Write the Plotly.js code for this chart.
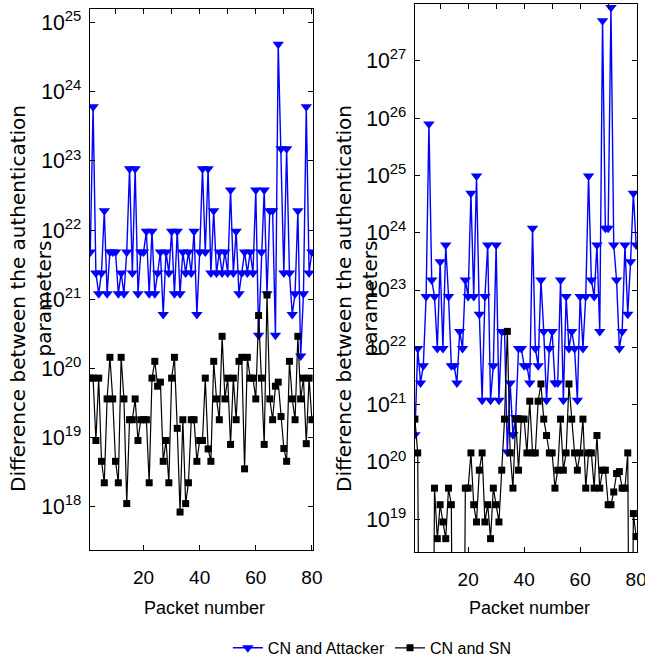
<!DOCTYPE html>
<html>
<head>
<meta charset="utf-8">
<script src="https://cdn.plot.ly/plotly-3.0.1.min.js"></script>
<style>html,body{margin:0;padding:0;background:#fff;}#chart{width:645px;height:666px;}</style>
</head>
<body>
<div id="chart"></div>
<script>
// Packet numbers (x categories)
const packets = [1,2,3,4,5,6,7,8,9,10,11,12,13,14,15,16,17,18,19,20,21,22,23,24,25,26,27,28,29,30,31,32,33,34,35,36,37,38,39,40,41,42,43,44,45,46,47,48,49,50,51,52,53,54,55,56,57,58,59,60,61,62,63,64,65,66,67,68,69,70,71,72,73,74,75,76,77,78,79,80];

// Left panel
const leftAttacker = [4.8e21,6.1e23,2.4e21,1.2e21,2.4e21,1.9e22,1.2e21,4.8e21,4.8e21,4.8e21,
  1.2e21,2.4e21,1.2e21,4.8e21,7.7e22,2.4e21,7.7e22,1.2e21,4.8e21,4.8e21,
  9.6e21,1.2e21,9.6e21,1.2e21,2.4e21,4.8e21,6e20,4.8e21,2.4e21,9.6e21,
  1.2e21,9.6e21,1.2e21,4.8e21,2.4e21,4.8e21,2.4e21,9.6e21,6e20,4.8e21,
  7.7e22,4.8e21,7.7e22,2.4e21,1.9e22,2.4e21,4.8e21,2.4e21,4.8e21,2.4e21,
  3.8e22,2.4e21,9.6e21,1.2e21,2.4e21,4.8e21,2.4e21,4.8e21,2.4e21,3.8e22,
  3e20,4.8e21,3.8e22,1.2e21,1.9e22,1.9e22,3e20,4.9e24,1.5e23,2.4e21,
  1.5e23,2.4e21,6e20,1.2e21,1.9e22,1.5e20,1.2e21,6.1e23,2.4e21,4.8e21];
const leftSN = [7.2e19,7.2e19,9e18,7.2e19,4.5e18,2.2e18,3.6e19,1.44e20,3.6e19,4.5e18,
  2.2e18,1.44e20,3.6e19,1.1e18,1.8e19,1.8e19,3.6e19,9e18,1.8e19,1.8e19,
  1.8e19,2.2e18,7.2e19,1.26e20,5.5e19,6.3e19,4.5e18,9e18,2.2e18,7.2e19,
  1.44e20,1.35e19,8.3e17,1.8e19,1.1e18,2.2e18,1.8e19,1.8e19,4.5e18,9e18,
  9e18,7.2e19,6.8e18,4.5e18,1.26e20,3.6e19,1.8e19,2.9e20,3.6e19,7.2e19,
  7.9e18,7.2e19,1.8e19,1.26e20,1.44e20,3.5e18,1.44e20,7.2e19,7.2e19,3.6e19,
  5.8e20,7.2e19,7.9e18,1.15e21,3.6e19,1.8e19,5.5e19,6.3e19,2e19,6.9e18,
  4.5e18,1.26e20,3.6e19,1.8e19,2.9e20,3.6e19,7.2e19,8.1e18,7.2e19,1.8e19];

// Right panel
const rightAttacker = [3e20,9.6e21,2.4e21,4.8e21,7.7e22,7.9e25,1.5e23,7.7e22,9.6e21,3.1e23,
  9.6e21,6.1e23,7.7e22,4.8e21,4.8e21,2.4e21,1.9e22,9.6e21,1.5e23,7.7e22,
  4.9e24,7.7e22,9.8e24,3.8e22,1.2e21,7.7e22,6.1e23,1.2e21,4.8e21,6.1e23,
  1.2e21,1.9e22,1.9e22,1.5e20,2.4e21,3e20,6e20,9.6e21,9.6e21,4.8e21,
  4.8e21,2.4e21,1.2e24,9.6e21,4.8e21,1.5e23,1.9e22,1.2e21,9.6e21,1.9e22,
  2.4e21,2.4e21,1.5e23,1.2e21,7.7e22,9.6e21,1.9e22,9.6e21,1.2e21,7.7e22,
  9.6e21,7.7e22,9.8e24,1.5e23,7.7e22,6.1e23,1.9e22,5e27,1.2e24,1.2e24,
  8.5e27,6.1e23,1.5e23,9.6e21,1.9e22,6.1e23,3.8e22,3.1e23,4.9e24,6.1e23];
const rightSN = [5.6e20,1.44e20,1e12,1e12,1e12,1e12,1e12,3.5e19,4.6e18,1.8e19,
  9e18,4.6e18,3.5e19,1.8e19,1e12,1e12,1e12,1e12,3.5e19,3.5e19,
  1.44e20,1.8e19,9e18,7.2e19,1.44e20,9e18,1.8e19,4.6e18,3.5e19,1.8e19,
  9e18,7.2e19,5.6e20,1.9e22,1.44e20,3.5e19,5.6e20,7.2e19,5.6e20,5.6e20,
  1.44e20,1.15e21,1.44e20,1.44e20,1.15e21,2.3e21,5.6e20,2.9e20,1.44e20,1.44e20,
  3.5e19,7.2e19,5.6e20,7.2e19,1.44e20,2.3e21,5.6e20,1.44e20,7.2e19,1.44e20,
  5.6e20,3.5e19,1.44e20,1.44e20,3.5e19,2.9e20,3.5e19,7.2e19,7.2e19,1.8e19,
  1.8e19,3e19,6.3e19,6.8e19,3.5e19,3.5e19,1.44e20,1e12,1.26e19,5e18];

const seriesNames = ['CN and Attacker', 'CN and SN'];
const xTitle = 'Packet number';
const yTitle = 'Difference between the authentication<br>parameters';

const narrow = '"Liberation Sans", Arial, sans-serif';
const wide = '"DejaVu Sans", Verdana, sans-serif';
const BLUE = '#0000ff';

function attackerTrace(y, xa, ya, show) {
  return {x: packets, y: y, xaxis: xa, yaxis: ya, type: 'scatter', mode: 'lines+markers',
    name: seriesNames[0], showlegend: show, legendgroup: 'a',
    line: {color: BLUE, width: 1.4}, marker: {symbol: 'triangle-down', size: 10, color: BLUE}};
}
function snTrace(y, xa, ya, show) {
  return {x: packets, y: y, xaxis: xa, yaxis: ya, type: 'scatter', mode: 'lines+markers',
    name: seriesNames[1], showlegend: show, legendgroup: 's',
    line: {color: '#000', width: 1.2}, marker: {symbol: 'square', size: 7, color: '#000'}};
}
// carrier traces (draw nothing) so the top tick axes exist
function carrier(y, xa, ya) {
  return {x: packets, y: y, xaxis: xa, yaxis: ya, type: 'scatter', mode: 'none',
    showlegend: false, hoverinfo: 'skip'};
}

const data = [
  attackerTrace(leftAttacker, 'x', 'y', true),
  snTrace(leftSN, 'x', 'y', true),
  attackerTrace(rightAttacker, 'x2', 'y2', false),
  snTrace(rightSN, 'x2', 'y2', false),
  carrier(leftAttacker, 'x3', 'y'),
  carrier(rightAttacker, 'x4', 'y2')
];

function xAx(domain, range, anchor) {
  return {domain: domain, range: range, anchor: anchor, dtick: 20, tick0: 0,
    ticks: 'inside', ticklen: 5, tickcolor: '#000', showline: true, linecolor: '#000', linewidth: 1.2,
    mirror: 'ticks', showgrid: false, zeroline: false, automargin: false,
    tickfont: {family: narrow, size: 19, color: '#000'}, ticklabelstandoff: 10,
    ticklabeloverflow: 'allow'};
}
function xTop(over, range, anchor) {
  return {overlaying: over, side: 'top', range: range, anchor: anchor, dtick: 10, tick0: 0,
    ticks: 'inside', ticklen: 5, tickcolor: '#000', showline: false, showticklabels: false,
    showgrid: false, zeroline: false, automargin: false};
}
function yAx(domain, range, anchor) {
  return {type: 'log', domain: domain, range: range, anchor: anchor, dtick: 1,
    exponentformat: 'power', ticks: 'inside', ticklen: 5, tickcolor: '#000',
    showline: true, linecolor: '#000', linewidth: 1.2, mirror: 'ticks',
    showgrid: false, zeroline: false, automargin: false,
    tickfont: {family: narrow, size: 17, color: '#000'}, ticklabelstandoff: 4};
}

const layout = {
  width: 645, height: 666,
  margin: {l: 90, r: 8, t: 4, b: 114, autoexpand: false},
  paper_bgcolor: '#fff', plot_bgcolor: '#fff',
  showlegend: true,
  legend: {orientation: 'h', x: 0.252, xanchor: 'left', y: -0.175, yanchor: 'middle',
    font: {family: narrow, size: 16, color: '#000'}, bgcolor: 'rgba(0,0,0,0)'},
  xaxis: xAx([0, 0.4077], [0.9, 80.4], 'y'),
  yaxis: yAx([0.0037, 0.9909], [17.37, 25.2], 'x'),
  xaxis2: xAx([0.594, 1], [1.0, 80.3], 'y2'),
  yaxis2: yAx([0, 1], [18.43, 27.99], 'x2'),
  xaxis3: xTop('x', [0.9, 80.4], 'y'),
  xaxis4: xTop('x2', [1.0, 80.3], 'y2'),
  annotations: [
    {text: yTitle, xref: 'paper', yref: 'paper', x: -0.108, y: 0.4635, xanchor: 'center', yanchor: 'middle',
     textangle: -90, showarrow: false, font: {family: wide, size: 20, color: '#000'}},
    {text: yTitle, xref: 'paper', yref: 'paper', x: 0.488, y: 0.4635, xanchor: 'center', yanchor: 'middle',
     textangle: -90, showarrow: false, font: {family: wide, size: 20, color: '#000'}},
    {text: xTitle, xref: 'paper', yref: 'paper', x: 0.2102, y: -0.103, xanchor: 'center', yanchor: 'middle',
     showarrow: false, font: {family: narrow, size: 18, color: '#000'}},
    {text: xTitle, xref: 'paper', yref: 'paper', x: 0.804, y: -0.103, xanchor: 'center', yanchor: 'middle',
     showarrow: false, font: {family: narrow, size: 18, color: '#000'}}
  ]
};

Plotly.newPlot('chart', data, layout, {staticPlot: true, displayModeBar: false});
</script>
</body>
</html>
